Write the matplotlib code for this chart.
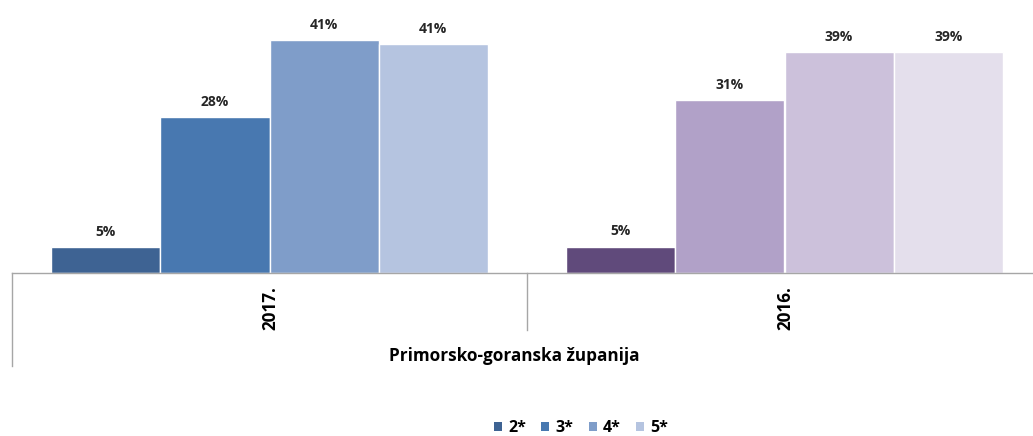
import matplotlib.pyplot as plt
import numpy as np
from matplotlib.patches import Patch

plt.rcParams['font.family'] = ['Open Sans', 'DejaVu Sans']

# ---Data---
years = ['2017.', '2016.']
stars = ['2*', '3*', '4*', '5*']
vals_2017 = [4.6, 27.7, 41.4, 40.6]
vals_2016 = [4.7, 30.7, 39.2, 39.2]
region = 'Primorsko-goranska županija'

blues = ['#3E6393', '#4878B0', '#7F9DC9', '#B5C4E0']
purples = ['#604A7B', '#B1A1C8', '#CCC1DB', '#E4DFEC']

W, H = 1033, 436
fig = plt.figure(figsize=(W / 100, H / 100), dpi=100)
# axes area in pixels: x 12..1042, y 0..273
ax = fig.add_axes([12 / W, 1 - 273 / H, 1030 / W, 273 / H])

bw = 0.212
x = np.arange(len(years))
for k, (series, cols) in enumerate(zip([vals_2017, vals_2016], [blues, purples])):
    for i, v in enumerate(series):
        xi = x[k] + (i - 1.5) * bw
        ax.bar(xi, v, width=bw, color=cols[i], edgecolor='white', linewidth=1.0, zorder=2)
        ax.text(xi, v + 1.5, f'{v:.0f}%', ha='center', va='bottom', fontsize=10,
                fontweight='bold', color='#262626', clip_on=False)

ax.set_xlim(-0.5, 1.5)
ax.set_ylim(0, 48.5)
ax.set_xticks([])
ax.set_yticks([])
for s in ['top', 'right', 'left']:
    ax.spines[s].set_visible(False)
ax.spines['bottom'].set_color('#A6A6A6')
ax.spines['bottom'].set_linewidth(1.0)

# multi-level category axis
lc = '#A6A6A6'
fig.add_artist(plt.Line2D([12 / W, 12 / W], [1 - 273 / H, 1 - 366 / H], color=lc, lw=1.0))
fig.add_artist(plt.Line2D([527 / W, 527 / W], [1 - 273 / H, 1 - 330 / H], color=lc, lw=1.0))

for k, yr in enumerate(years):
    cx = [270, 785][k]
    fig.text(cx / W, 1 - 308 / H, yr, rotation=90, ha='center', va='center',
             fontsize=12.3, fontweight='bold', color='#000000')
fig.text(514 / W, 1 - 356 / H, region, ha='center', va='center',
         fontsize=12.3, fontweight='bold', color='#000000')

handles = [Patch(facecolor=c, edgecolor='none', label=s) for c, s in zip(blues, stars)]
fig.legend(handles=handles, loc='center', bbox_to_anchor=(581 / W, 1 - 428 / H), ncol=4,
           frameon=False, handlelength=0.5, handleheight=0.5,
           handletextpad=0.4, columnspacing=0.95, prop={'weight': 'bold', 'size': 11.5})

fig.savefig('out.png', dpi=100)
